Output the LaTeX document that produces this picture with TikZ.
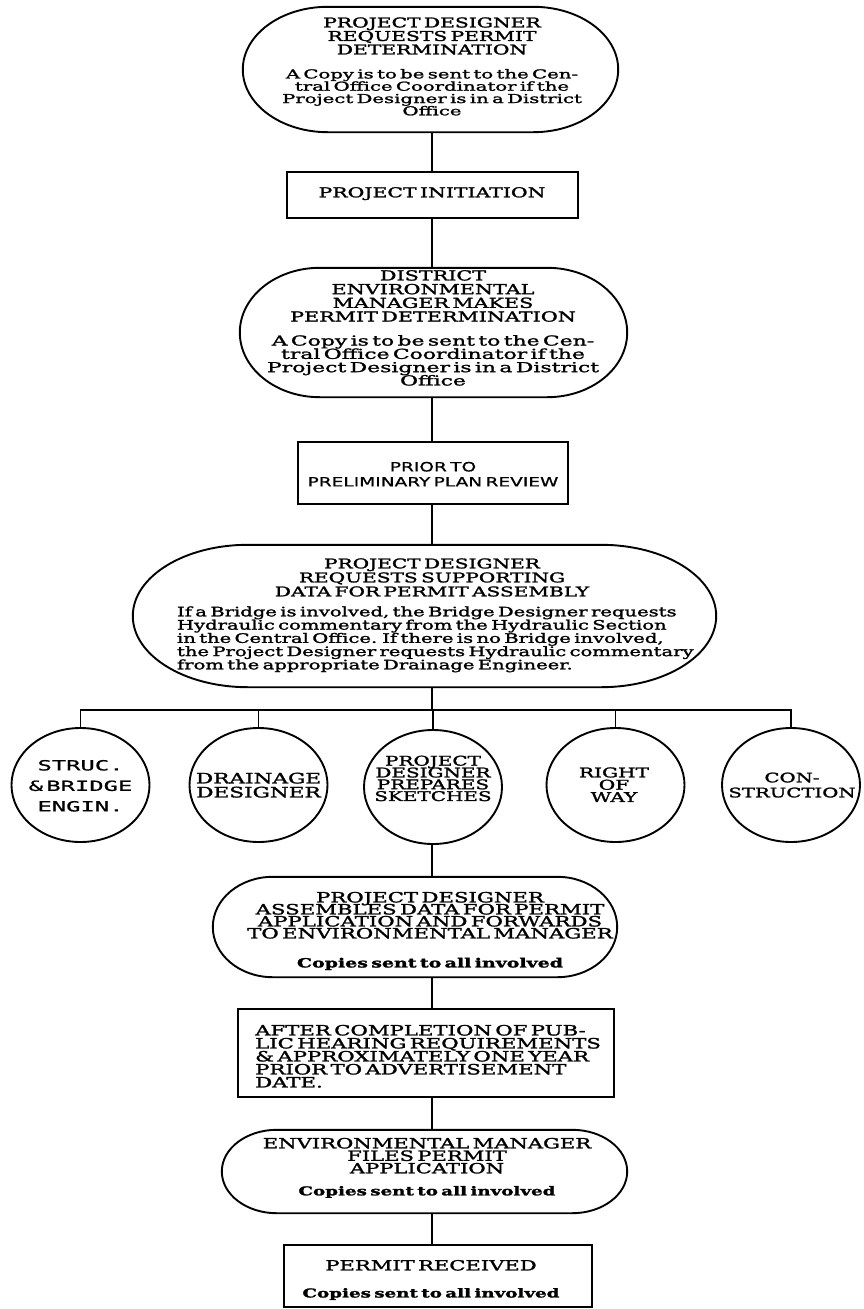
\documentclass[tikz,border=0pt]{standalone}
\usepackage{fontspec}
\setmainfont{DejaVu Serif}
\newfontfamily\tw{DejaVu Serif}[FakeStretch=1.5,FakeBold=1.8]
\newfontfamily\twx{DejaVu Serif}[FakeStretch=1.6,FakeBold=1.6]
\newfontfamily\sn{DejaVu Sans}[FakeStretch=1.45,FakeBold=1.0]
\newfontfamily\mn{DejaVu Sans Mono}[FakeStretch=1.7,FakeBold=0.8]
\usetikzlibrary{calc,shapes.geometric}
\newcommand{\fs}[2]{\fontsize{#1}{#2}\selectfont}
\newcommand{\prep}{\parindent=0pt\parskip=0pt\lineskiplimit=-100pt\relax}
\newcommand{\stadout}[2]{%
  \draw[ln] let \p1=(#1.north west), \p2=(#1.south east), \n1={(\y1-\y2)/2} in
    (\x1+#2pt,\y1) -- (\x2-#2pt,\y1)
    arc[start angle=90, end angle=-90, x radius=#2pt, y radius={\n1*1pt}]
    -- (\x1+#2pt,\y2)
    arc[start angle=270, end angle=90, x radius=#2pt, y radius={\n1*1pt}] -- cycle;}
\begin{document}
\begin{tikzpicture}[x=1pt,y=-1pt,
  ln/.style={line width=1.9pt},
  boxsh/.style={draw,line width=1.9pt,inner sep=0pt},
  stadsh/.style={rectangle,draw=none,inner sep=0pt},
  ell/.style={ellipse,draw,line width=1.9pt,inner sep=0pt,minimum width=138pt,minimum height=114pt},
  ctext/.style={inner sep=0pt,align=center,text width=#1,anchor=north,font=\tw},
  ltext/.style={inner sep=0pt,align=left,text width=#1,anchor=north west,font=\tw}]
\path[fill=white,use as bounding box] (0,0) rectangle (863,1309);
\coordinate (sp) at (432,0);

% shapes
\node[stadsh,minimum width=375pt,minimum height=125pt] (s1) at (430.5,69.5) {};
\stadout{s1}{85}
\node[boxsh,minimum width=291pt,minimum height=46pt] (b1) at (432.5,195) {};
\node[stadsh,minimum width=387pt,minimum height=129pt] (s2) at (433.5,332.5) {};
\stadout{s2}{80}
\node[boxsh,minimum width=270pt,minimum height=62pt] (prior) at (433,473) {};
\node[stadsh,minimum width=583pt,minimum height=142pt] (s3) at (424.5,616) {};
\stadout{s3}{115}
\node[ell] (e1) at (80.5,785) {};
\node[ell] (e2) at (258.5,785) {};
\node[ell] (e3) at (433,787) {};
\node[ell] (e4) at (615.5,785) {};
\node[ell] (e5) at (791,785) {};
\node[stadsh,minimum width=404pt,minimum height=100pt] (s4) at (415,927) {};
\stadout{s4}{60}
\node[boxsh,minimum width=376pt,minimum height=88pt] (after) at (426,1053) {};
\node[stadsh,minimum width=405pt,minimum height=83pt] (s5) at (424.5,1171.5) {};
\stadout{s5}{55}
\node[boxsh,minimum width=308pt,minimum height=62pt] (permit) at (438,1276) {};

% texts
\node[ctext=420pt] (s1t) at (432,17.2) {\prep\fs{13.5}{13.5}PROJECT DESIGNER\\REQUESTS PERMIT\\DETERMINATION\par\vskip11.7pt\twx\fs{12.3}{12.3}A Copy is to be sent to the Cen-\\tral Office Coordinator if the\\Project Designer is in a District\\Office\par};
\node[ctext=320pt] (b1t) at (432,187) {\prep\fs{13.6}{13}PROJECT INITIATION\par};
\node[ctext=420pt] (s2t) at (433,270) {\prep\fs{13.8}{13.7}DISTRICT\\ENVIRONMENTAL\\MANAGER MAKES\\PERMIT DETERMINATION\par\vskip10.7pt\twx\fs{13.7}{13.3}A Copy is to be sent to the Cen-\\tral Office Coordinator if the\\Project Designer is in a District\\Office\par};
\node[ctext=300pt,font=\sn] (priort) at (433,461.7) {\prep\fs{12.8}{15}PRIOR TO\\PRELIMINARY PLAN REVIEW\par};
\node[ctext=560pt] (s3t) at (432,558.2) {\prep\fs{13.4}{14}PROJECT DESIGNER\\REQUESTS SUPPORTING\\DATA FOR PERMIT ASSEMBLY\par\vskip6.75pt{\raggedright\leftskip=25pt\fs{13.05}{13.25}If a Bridge is involved, the Bridge Designer requests\\Hydraulic commentary from the Hydraulic Section\\in the Central Office. If there is no Bridge involved,\\the Project Designer requests Hydraulic commentary\\from the appropriate Drainage Engineer.\par}};
\node[ctext=160pt,font=\mn] (e1t) at (80.5,759.8) {\prep\fs{14}{20.5}STRUC.\\\& BRIDGE\\ENGIN.\par};
\node[ctext=160pt] (e2t) at (258.5,772.5) {\prep\fs{14.4}{14}DRAINAGE\\DESIGNER\par};
\node[ctext=160pt] (e3t) at (433,755.5) {\prep\fs{13.3}{11.8}PROJECT\\DESIGNER\\PREPARES\\SKETCHES\par};
\node[ctext=160pt] (e4t) at (614,767.2) {\prep\fs{13.4}{12.3}RIGHT\\OF\\WAY\par};
\node[ctext=160pt] (e5t) at (792,772.4) {\prep\fs{13.1}{15}CON-\\STRUCTION\par};
\node[ctext=420pt] (s4t) at (430,891.7) {\prep\fs{14.15}{12}PROJECT DESIGNER\\ASSEMBLES DATA FOR PERMIT\\APPLICATION AND FORWARDS\\TO ENVIRONMENTAL MANAGER\par\vskip16.6pt\bfseries\fs{12.65}{12.4}Copies sent to all involved\par};
\node[ltext=370pt] (aftert) at (255,1024.7) {\prep\fs{14.15}{13}AFTER COMPLETION OF PUB-\\LIC HEARING REQUIREMENTS\\\& APPROXIMATELY ONE YEAR\\PRIOR TO ADVERTISEMENT\\DATE.\par};
\node[ctext=420pt] (s5t) at (427,1137.7) {\prep\fs{14.05}{12.5}ENVIRONMENTAL MANAGER\\FILES PERMIT\\APPLICATION\par\vskip9.5pt\bfseries\fs{12.2}{12.5}Copies sent to all involved\par};
\node[ctext=320pt] (permitt) at (431,1259.8) {\prep\fs{14.05}{13}PERMIT RECEIVED\par\vskip14pt\bfseries\fs{12.2}{13}Copies sent to all involved\par};

% connectors
\coordinate (bus) at (432,710);
\draw[ln] (sp |- s1.south) -- (sp |- b1.north);
\draw[ln] (sp |- b1.south) -- (sp |- s2.north);
\draw[ln] (sp |- s2.south) -- (sp |- prior.north);
\draw[ln] (sp |- prior.south) -- (sp |- s3.north);
\draw[ln] (sp |- s3.south) -- (bus);
\draw[ln] (e1.north) |- (bus) -| (e5.north);
\foreach \e in {e2,e3,e4} \draw[ln] (\e.north) -- (\e.north |- bus);
\draw[ln] (sp |- e3.south) -- (sp |- s4.north);
\draw[ln] (sp |- s4.south) -- (sp |- after.north);
\draw[ln] (sp |- after.south) -- (sp |- s5.north);
\draw[ln] (sp |- s5.south) -- (sp |- permit.north);
\end{tikzpicture}
\end{document}
